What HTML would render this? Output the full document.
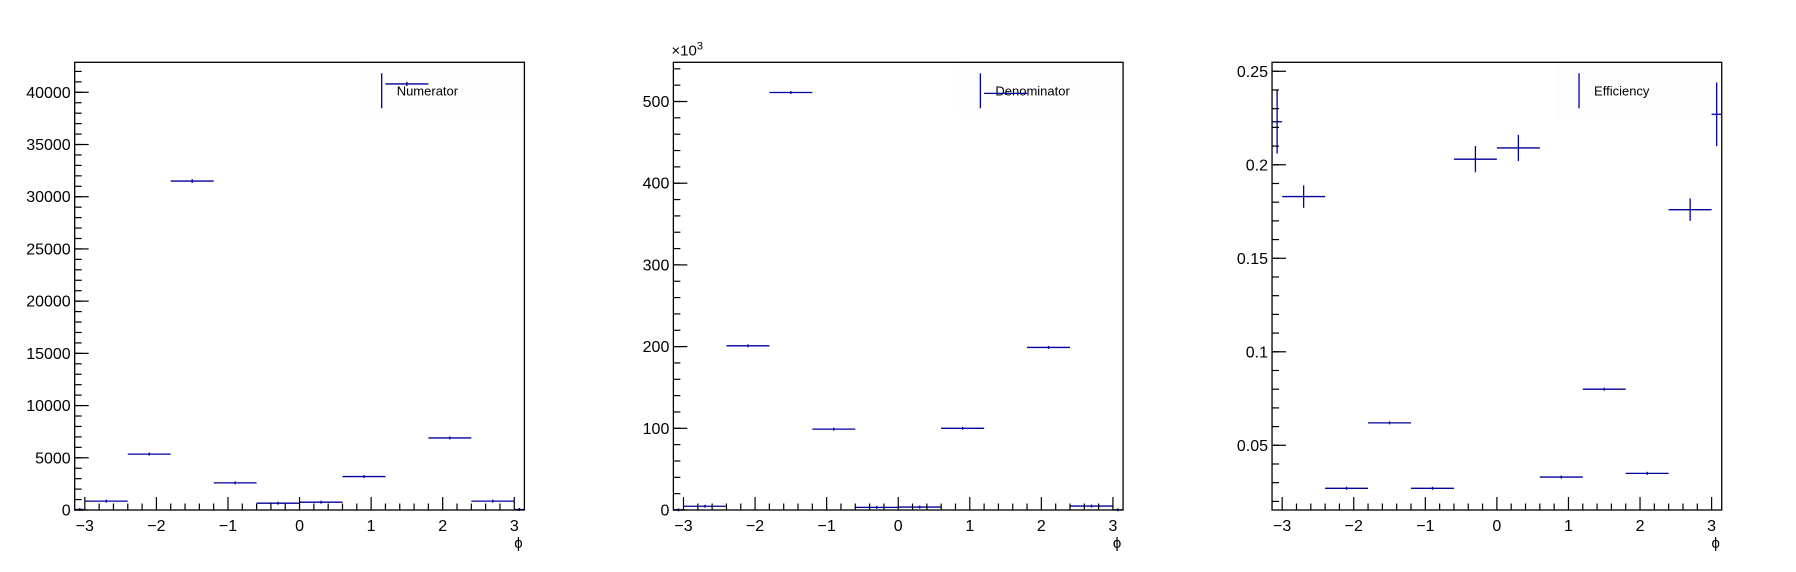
<!DOCTYPE html>
<html><head><meta charset="utf-8"><style>
html,body{margin:0;padding:0;background:#fff;}
svg{display:block;font-family:"Liberation Sans",sans-serif;}
</style></head><body>
<svg id="chart" width="1796" height="572" viewBox="0 0 1796 572" xmlns="http://www.w3.org/2000/svg"></svg>
<script>
const binEdges = [-3.14159, -3, -2.4, -1.8, -1.2, -0.6, 0, 0.6, 1.2, 1.8, 2.4, 3, 3.14159];
const numeratorValues = [50, 850, 5350, 31500, 2600, 650, 750, 3200, 40800, 6900, 850, 50];
const numeratorErrors = [7, 29, 73, 177, 51, 25, 27, 57, 202, 83, 29, 7];
const denominatorValues = [0.22, 4.6, 201, 511, 99, 3.2, 3.6, 100, 510, 199, 4.8, 0.22];
const denominatorErrors = [0.02, 0.07, 0.45, 0.7, 0.3, 0.06, 0.06, 0.3, 0.7, 0.45, 0.07, 0.02];
const efficiencyValues = [0.223, 0.183, 0.027, 0.062, 0.027, 0.203, 0.209, 0.033, 0.080, 0.035, 0.176, 0.227];
const efficiencyErrors = [0.017, 0.006, 0.0004, 0.0004, 0.0005, 0.007, 0.007, 0.0006, 0.0005, 0.0004, 0.006, 0.017];
const numTicks = [0, 5000, 10000, 15000, 20000, 25000, 30000, 35000, 40000];
const denTicks = [0, 100, 200, 300, 400, 500];
const effTicks = [0.05, 0.1, 0.15, 0.2, 0.25];
const effTickLabels = ["0.05", "0.1", "0.15", "0.2", "0.25"];
const xTicks = [-3, -2, -1, 0, 1, 2, 3];
const xTickLabels = ["\u22123", "\u22122", "\u22121", "0", "1", "2", "3"];

const svg = document.getElementById('chart');
const NS = 'http://www.w3.org/2000/svg';
const COL = '#00009a';
function mk(tag, attrs, parent) {
  const e = document.createElementNS(NS, tag);
  for (const k in attrs) e.setAttribute(k, attrs[k]);
  parent.appendChild(e);
  return e;
}

function panel(idx, cfg) {
  const off = idx * 598.67;
  const L = off + 74.7, R = off + 524.4, T = 62.3, B = 510;
  const g = mk('g', {}, svg);
  
  
  const xs = v => L + (v + Math.PI) / (2 * Math.PI) * (R - L);
  const ys = v => B - (v - cfg.ymin) / (cfg.ymax - cfg.ymin) * (B - T);

  const lg = mk('g', {}, g);
  
  
  mk('rect', {x: L + 285, y: T, width: R - L - 285, height: 56, fill: '#fdfdfd'}, lg);
  const ll = mk('line', {x1: L + 307, x2: L + 307, y1: T + 11, y2: T + 46, stroke: COL, 'stroke-width': 1.3}, lg);
  
  
  const lt = mk('text', {x: L + 322, y: T + 33, 'font-size': 13, fill: '#000'}, lg);
  lt.textContent = cfg.legend;
  
  

  for (let i = 0; i < cfg.vals.length; i++) {
    const x0 = xs(binEdges[i]), x1 = xs(binEdges[i + 1]), xc = (x0 + x1) / 2;
    const y = ys(cfg.vals[i]);
    const yt = ys(cfg.vals[i] + cfg.errs[i]), yb = ys(Math.max(cfg.ymin, cfg.vals[i] - cfg.errs[i]));
    const bg = mk('g', {}, g);
    
    
    mk('line', {x1: x0, x2: x1, y1: y, y2: y, stroke: COL, 'stroke-width': 1.3}, bg);
    mk('line', {x1: xc, x2: xc, y1: Math.min(yt, y - 1.5), y2: Math.max(yb, y + 1.5), stroke: COL, 'stroke-width': 1.3}, bg);
  }

  const fr = mk('rect', {x: L, y: T, width: R - L, height: B - T, fill: 'none', stroke: '#000', 'stroke-width': 1.3}, g);
  
  

  const ya = mk('g', {}, g);
  
  
  for (let v = cfg.ymin0; v <= cfg.ymax + 1e-9; v += cfg.minor) {
    if (v < cfg.ymin - 1e-9) continue;
    const y = ys(v);
    mk('line', {x1: L, x2: L + 7, y1: y, y2: y, stroke: '#000', 'stroke-width': 1.2}, ya);
  }
  cfg.ticks.forEach((v, i) => {
    const y = ys(v);
    mk('line', {x1: L, x2: L + 14, y1: y, y2: y, stroke: '#000', 'stroke-width': 1.2}, ya);
    const t = mk('text', {x: L - 4, y: y + 5.5, 'font-size': 16, 'text-anchor': 'end', fill: '#000'}, ya);
    t.textContent = cfg.tickLabels[i];
  });

  const xa = mk('g', {}, g);
  
  
  for (let k = -15; k <= 15; k++) {
    const v = k * 0.2;
    const x = xs(v);
    const major = k % 5 === 0;
    mk('line', {x1: x, x2: x, y1: B, y2: B - (major ? 13 : 6.5), stroke: '#000', 'stroke-width': 1.2}, xa);
  }
  xTicks.forEach((v, i) => {
    const t = mk('text', {x: xs(v), y: B + 21, 'font-size': 16, 'text-anchor': 'middle', fill: '#000'}, xa);
    t.textContent = xTickLabels[i];
  });
  const xt = mk('text', {x: R - 6, y: B + 38, 'font-size': 15, 'text-anchor': 'middle', fill: '#000'}, g);
  xt.textContent = '\u03D5';
  
  

  if (cfg.exponent) {
    const et = mk('text', {x: L - 2, y: T - 7, 'font-size': 15, fill: '#000'}, g);
    
    
    et.textContent = '\u00D710';
    const sup = mk('tspan', {dy: -6, 'font-size': 11}, et);
    sup.textContent = '3';
  }
}

panel(0, {name: 'numerator-panel', legend: 'Numerator', vals: numeratorValues, errs: numeratorErrors,
  ymin: 0, ymax: 42873, ymin0: 0, minor: 1000, ticks: numTicks, tickLabels: numTicks.map(String)});
panel(1, {name: 'denominator-panel', legend: 'Denominator', vals: denominatorValues, errs: denominatorErrors,
  ymin: 0, ymax: 548, ymin0: 0, minor: 20, ticks: denTicks, tickLabels: denTicks.map(String), exponent: true});
panel(2, {name: 'efficiency-panel', legend: 'Efficiency', vals: efficiencyValues, errs: efficiencyErrors,
  ymin: 0.0154, ymax: 0.2548, ymin0: 0.02, minor: 0.01, ticks: effTicks, tickLabels: effTickLabels});
</script>
</body></html>
